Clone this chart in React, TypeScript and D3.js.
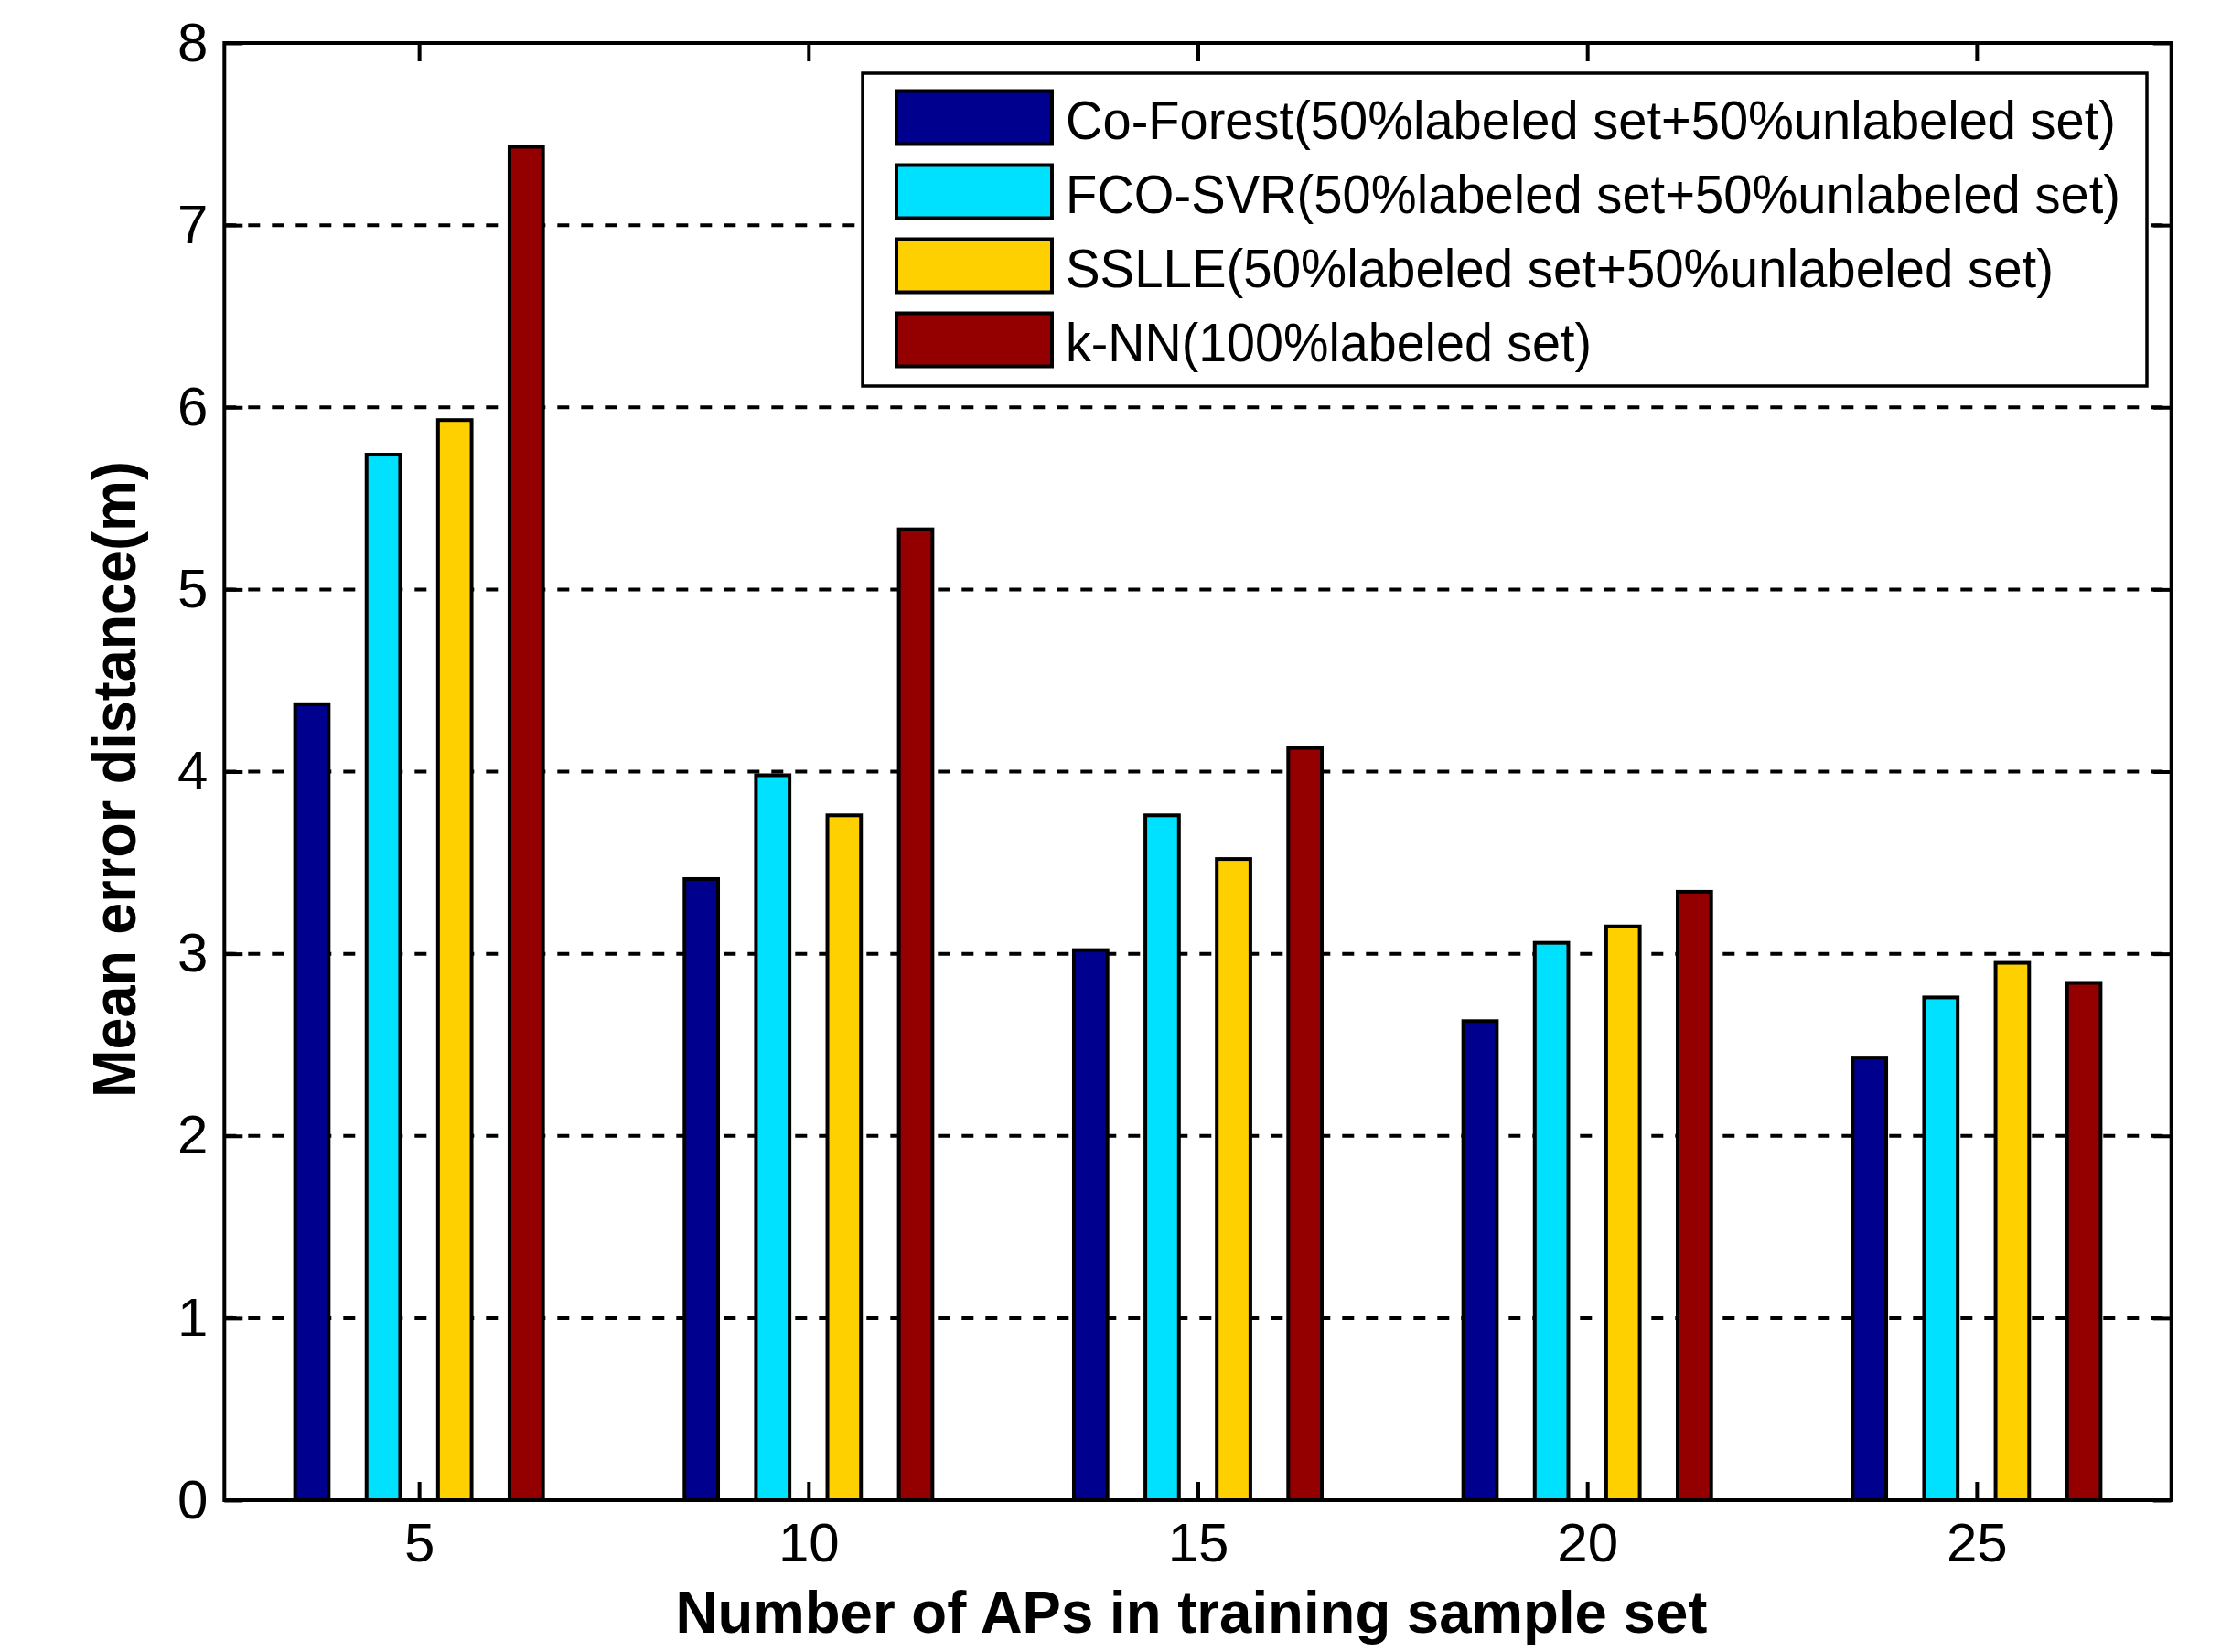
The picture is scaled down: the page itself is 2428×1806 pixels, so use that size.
import { useEffect, useRef } from "react"
import * as d3 from "d3"

// Values
const categories = [5, 10, 15, 20, 25]
const seriesNames = [
  "Co-Forest(50%labeled set+50%unlabeled set)",
  "FCO-SVR(50%labeled set+50%unlabeled set)",
  "SSLLE(50%labeled set+50%unlabeled set)",
  "k-NN(100%labeled set)",
]
const coForest = [4.37, 3.41, 3.02, 2.63, 2.43]
const fcoSvr = [5.74, 3.98, 3.76, 3.06, 2.76]
const sslle = [5.93, 3.76, 3.52, 3.15, 2.95]
const knn = [7.43, 5.33, 4.13, 3.34, 2.84]
const seriesColors = ["#00008F", "#00E0FF", "#FFD000", "#940000"]
const yTicks = [0, 1, 2, 3, 4, 5, 6, 7, 8]
const gridValues = [1, 2, 3, 4, 5, 6, 7]

const width = 2428
const height = 1806

export default function App() {
  const svgRef = useRef<SVGSVGElement>(null)

  useEffect(() => {
    if (!svgRef.current) return
    const svg = d3.select(svgRef.current)
    svg.selectAll("*").remove()

    const left = 245.3
    const right = 2373.7
    const top = 47
    const bottom = 1640

    const x = d3.scaleLinear().domain([2.5, 27.5]).range([left, right])
    const y = d3.scaleLinear().domain([0, 8]).range([bottom, top])

    // position of each series inside a group, in x units
    const inner = d3
      .scaleBand<string>()
      .domain(seriesNames)
      .range([-1.835, 1.835])
      .paddingInner(0.53)
      .paddingOuter(0.265)

    const values = [coForest, fcoSvr, sslle, knn]

    svg.append("rect").attr("width", width).attr("height", height).attr("fill", "white")

    // dashed grid behind bars
    svg
      .append("g")
      .selectAll("line")
      .data(gridValues)
      .enter()
      .append("line")
      .attr("x1", left)
      .attr("x2", right)
      .attr("y1", (d) => y(d))
      .attr("y2", (d) => y(d))
      .attr("stroke", "black")
      .attr("stroke-width", 4)
      .attr("stroke-dasharray", "13,13")

    // bars
    values.forEach((vals, si) => {
      const name = seriesNames[si]
      svg
        .append("g")
        .selectAll("rect")
        .data(vals)
        .enter()
        .append("rect")
        .attr("x", (d, i) => x(categories[i] + (inner(name) as number)))
        .attr("width", (d, i) => {
          const x0 = categories[i] + (inner(name) as number)
          return x(x0 + inner.bandwidth()) - x(x0)
        })
        .attr("y", (d) => y(d))
        .attr("height", (d) => y(0) - y(d))
        .attr("fill", seriesColors[si])
        .attr("stroke", "black")
        .attr("stroke-width", 4)
    })

    const styleAxis = (g: d3.Selection<SVGGElement, unknown, null, undefined>) => {
      g.select(".domain").remove()
      g.selectAll(".tick line").attr("stroke", "black").attr("stroke-width", 4)
      g.selectAll(".tick text")
        .attr("fill", "black")
        .style("font-family", "'Liberation Sans', Arial, sans-serif")
        .style("font-size", "60px")
    }

    svg
      .append("g")
      .attr("transform", `translate(0,${bottom})`)
      .call(d3.axisBottom(x).tickValues(categories).tickSize(-20).tickPadding(24))
      .call(styleAxis)

    svg
      .append("g")
      .attr("transform", `translate(0,${top})`)
      .call(d3.axisTop(x).tickValues(categories).tickSize(-20).tickFormat(() => ""))
      .call(styleAxis)

    svg
      .append("g")
      .attr("transform", `translate(${left},0)`)
      .call(d3.axisLeft(y).tickValues(yTicks).tickSize(-20).tickPadding(18).tickFormat(d3.format("d")))
      .call(styleAxis)

    svg
      .append("g")
      .attr("transform", `translate(${right},0)`)
      .call(d3.axisRight(y).tickValues(yTicks).tickSize(-20).tickFormat(() => ""))
      .call(styleAxis)

    // axes box
    svg
      .append("rect")
      .attr("x", left)
      .attr("y", top)
      .attr("width", right - left)
      .attr("height", bottom - top)
      .attr("fill", "none")
      .attr("stroke", "black")
      .attr("stroke-width", 4)

    // axis labels
    svg
      .append("text")
      .attr("x", 1302.5)
      .attr("y", 1785)
      .attr("text-anchor", "middle")
      .attr("textLength", 1128)
      .attr("lengthAdjust", "spacingAndGlyphs")
      .style("font-family", "'Liberation Sans', Arial, sans-serif")
      .style("font-weight", "bold")
      .style("font-size", "65px")
      .text("Number of APs in training sample set")

    svg
      .append("text")
      .attr("transform", "translate(148,852) rotate(-90)")
      .attr("text-anchor", "middle")
      .attr("textLength", 696)
      .attr("lengthAdjust", "spacingAndGlyphs")
      .style("font-family", "'Liberation Sans', Arial, sans-serif")
      .style("font-weight", "bold")
      .style("font-size", "66px")
      .text("Mean error distance(m)")

    // legend
    const legendTextLength = [1148, 1153, 1080, 575]
    const legend = svg.append("g")
    legend
      .append("rect")
      .attr("x", 943)
      .attr("y", 80)
      .attr("width", 2347 - 943)
      .attr("height", 342)
      .attr("fill", "white")
      .attr("stroke", "black")
      .attr("stroke-width", 3.5)

    const items = legend
      .selectAll(".legend-item")
      .data(seriesNames)
      .enter()
      .append("g")
      .attr("class", "legend-item")
      .attr("transform", (d, i) => `translate(0, ${128.5 + i * 81})`)

    items
      .append("rect")
      .attr("x", 980)
      .attr("y", -29)
      .attr("width", 170)
      .attr("height", 58)
      .attr("fill", (d, i) => seriesColors[i])
      .attr("stroke", "black")
      .attr("stroke-width", 4)

    items
      .append("text")
      .attr("x", 1165)
      .attr("y", 23)
      .attr("textLength", (d, i) => legendTextLength[i])
      .attr("lengthAdjust", "spacingAndGlyphs")
      .style("font-family", "'Liberation Sans', Arial, sans-serif")
      .style("font-size", "60px")
      .attr("fill", "black")
      .text((d) => d)
  }, [])

  return (
    <svg
      ref={svgRef}
      width={width}
      height={height}
      style={{ position: "absolute", left: 0, top: 0, display: "block" }}
    ></svg>
  )
}
